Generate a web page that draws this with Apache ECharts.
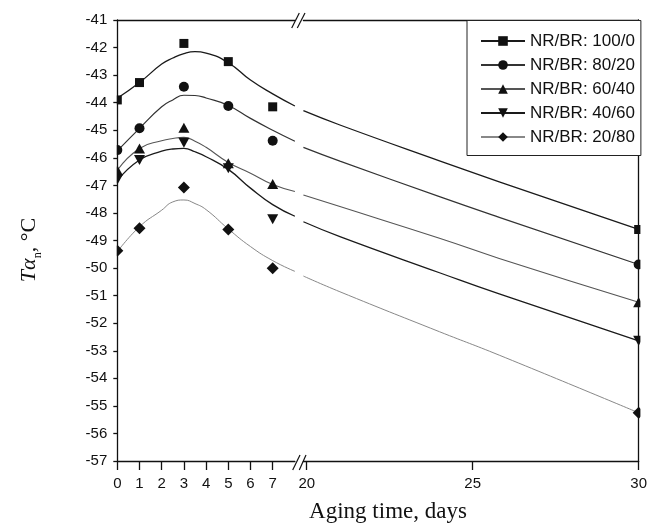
<!DOCTYPE html>
<html>
<head>
<meta charset="utf-8">
<script src="https://cdn.jsdelivr.net/npm/echarts@6/dist/echarts.min.js"></script>
<style>html,body{margin:0;padding:0;background:#fff}#c{width:650px;height:529px}</style>
</head>
<body>
<div id="c"></div>
<script>
// ---- data ----
const seriesNames = ['NR/BR: 100/0', 'NR/BR: 80/20', 'NR/BR: 60/40', 'NR/BR: 40/60', 'NR/BR: 20/80'];
// measured points
const pointDays = [0, 1, 3, 5, 7, 30];
const pts100 = [-43.9, -43.27, -41.85, -42.51, -44.15, -48.6];
const pts80  = [-45.72, -44.93, -43.42, -44.12, -45.38, -49.87];
const pts60  = [-46.45, -45.66, -44.91, -46.2, -46.95, -51.24];
const pts40  = [-46.8, -46.08, -45.45, -46.38, -48.23, -52.64];
const pts20  = [-49.37, -48.56, -47.08, -48.6, -50.01, -55.25];
// fitted curves, left panel
const fitDaysLeft = [0, 1, 2, 2.5, 3, 3.5, 4, 5, 6, 7, 8];
const fit100L = [-43.84, -43.27, -42.6, -42.38, -42.22, -42.15, -42.2, -42.55, -43.18, -43.68, -44.12];
const fit80L  = [-45.75, -44.93, -44.15, -43.9, -43.73, -43.74, -43.83, -44.1, -44.57, -45.0, -45.4];
const fit60L  = [-46.45, -45.66, -45.38, -45.3, -45.26, -45.4, -45.62, -46.17, -46.56, -46.97, -47.22];
const fit40L  = [-46.83, -46.08, -45.76, -45.68, -45.66, -45.78, -45.96, -46.42, -47.1, -47.7, -48.12];
const fit20L  = [-49.41, -48.5, -47.9, -47.6, -47.53, -47.66, -47.88, -48.58, -49.22, -49.73, -50.12];
// fitted curves, right panel
const fitDaysRight = [19.9, 21, 24, 25.8, 30];
const fit100R = [-44.29, -44.81, -46.11, -46.87, -48.6];
const fit80R  = [-45.62, -46.12, -47.41, -48.16, -49.87];
const fit60R  = [-47.35, -47.77, -48.92, -49.65, -51.24];
const fit40R  = [-48.32, -48.86, -50.17, -50.94, -52.64];
const fit20R  = [-50.29, -50.86, -52.31, -53.16, -55.25];
// ticks
const leftTicks = [0, 1, 2, 3, 4, 5, 6, 7];
const rightTicks = [20, 25, 30];
const breakAt = 8;

const ptsAll = [pts100, pts80, pts60, pts40, pts20];
const fitL = [fit100L, fit80L, fit60L, fit40L, fit20L];
const fitR = [fit100R, fit80R, fit60R, fit40R, fit20R];

// ---- styles ----
const symbols = ['rect', 'circle', 'triangle', 'triangle', 'diamond'];
const symRot = [0, 0, 0, 180, 0];
const symSize = [[9, 9], 10, [11, 10], [11, 10], [12, 12]];
const lineColors = ['#1a1a1a', '#333', '#555', '#1a1a1a', '#888'];
const lineWidths = [1.3, 1.2, 1.1, 1.3, 1];

const pair = (xs, ys) => xs.map((x, i) => [x, ys[i]]);

const series = [];
seriesNames.forEach((name, k) => {
  const common = {
    name, symbol: symbols[k], symbolRotate: symRot[k], symbolSize: symSize[k],
    itemStyle: { color: '#111', opacity: 1 }
  };
  series.push(Object.assign({}, common, {
    type: 'line', xAxisIndex: 0, yAxisIndex: 0, smooth: 0.5, showSymbol: false,
    lineStyle: { color: lineColors[k], width: lineWidths[k] },
    data: pair(fitDaysLeft, fitL[k]), z: 2
  }));
  series.push(Object.assign({}, common, {
    type: 'line', xAxisIndex: 2, yAxisIndex: 1, smooth: 0.5, showSymbol: false,
    lineStyle: { color: lineColors[k], width: lineWidths[k] },
    data: pair(fitDaysRight, fitR[k]), z: 2
  }));
  const all = pair(pointDays, ptsAll[k]);
  series.push(Object.assign({}, common, {
    type: 'scatter', xAxisIndex: 0, yAxisIndex: 0,
    data: all.filter(p => p[0] <= breakAt), z: 3
  }));
  series.push(Object.assign({}, common, {
    type: 'scatter', xAxisIndex: 2, yAxisIndex: 1,
    data: all.filter(p => p[0] > breakAt), z: 3
  }));
});

const axisLineStyle = { color: '#111', width: 1.3 };
const tickFont = { fontFamily: 'Liberation Sans', fontSize: 15, color: '#111' };

const chart = echarts.init(document.getElementById('c'), null, { renderer: 'canvas' });
chart.setOption({
  animation: false,
  backgroundColor: '#fff',
  grid: [
    { left: 117.3, top: 20, width: 177.6, height: 441 },
    { left: 303.4, top: 20, width: 336.1, height: 441 }
  ],
  xAxis: [
    { type: 'value', gridIndex: 0, min: 0, max: breakAt, position: 'bottom', z: 5,
      axisLine: { lineStyle: axisLineStyle },
      axisTick: { customValues: leftTicks, length: 9, lineStyle: axisLineStyle },
      axisLabel: Object.assign({ customValues: leftTicks, margin: 15 }, tickFont),
      splitLine: { show: false } },
    { type: 'value', gridIndex: 0, min: 0, max: breakAt, position: 'top', z: 5,
      axisLine: { lineStyle: axisLineStyle }, axisTick: { show: false },
      axisLabel: { show: false }, splitLine: { show: false } },
    { type: 'value', gridIndex: 1, min: 19.9, max: 30, position: 'bottom', z: 5,
      axisLine: { lineStyle: axisLineStyle },
      axisTick: { customValues: rightTicks, length: 9, lineStyle: axisLineStyle },
      axisLabel: Object.assign({ customValues: rightTicks, margin: 15 }, tickFont),
      splitLine: { show: false } },
    { type: 'value', gridIndex: 1, min: 19.9, max: 30, position: 'top', z: 5,
      axisLine: { lineStyle: axisLineStyle }, axisTick: { show: false },
      axisLabel: { show: false }, splitLine: { show: false } }
  ],
  yAxis: [
    { type: 'value', gridIndex: 0, min: -57, max: -41, interval: 1, position: 'left', z: 5,
      axisLine: { show: true, lineStyle: axisLineStyle },
      axisTick: { show: true, length: 4, lineStyle: axisLineStyle },
      axisLabel: Object.assign({ margin: 10 }, tickFont),
      splitLine: { show: false } },
    { type: 'value', gridIndex: 1, min: -57, max: -41, interval: 1, position: 'right', z: 5,
      axisLine: { show: true, lineStyle: axisLineStyle },
      axisTick: { show: false }, axisLabel: { show: false },
      splitLine: { show: false } }
  ],
  legend: {
    data: seriesNames, orient: 'vertical', left: 467, top: 20.5, z: 6,
    padding: [12, 6, 10, 13], itemGap: 7, itemWidth: 44, itemHeight: 12,
    backgroundColor: '#fff', borderColor: '#222', borderWidth: 1, borderRadius: 0,
    selectedMode: false,
    textStyle: { fontFamily: 'Liberation Sans', fontSize: 17, color: '#111' }
  },
  graphic: [
    // white masks so edge markers look clipped by the frame
    { type: 'rect', z: 4, silent: true, shape: { x: 95, y: 5, width: 21.8, height: 470 }, style: { fill: '#fff' } },
    { type: 'rect', z: 4, silent: true, shape: { x: 640.4, y: 5, width: 10, height: 470 }, style: { fill: '#fff' } },
    // axis break marks
    { type: 'line', z: 6, shape: { x1: 292.7, y1: 470, x2: 300, y2: 455 }, style: { stroke: '#111', lineWidth: 1.2 } },
    { type: 'line', z: 6, shape: { x1: 299.3, y1: 470, x2: 306, y2: 455 }, style: { stroke: '#111', lineWidth: 1.2 } },
    { type: 'line', z: 6, shape: { x1: 291.7, y1: 28, x2: 299.3, y2: 13 }, style: { stroke: '#111', lineWidth: 1.2 } },
    { type: 'line', z: 6, shape: { x1: 297.3, y1: 28, x2: 305, y2: 13 }, style: { stroke: '#111', lineWidth: 1.2 } },
    // axis titles
    { type: 'text', z: 6, x: 388, y: 512,
      style: { text: 'Aging time, days', font: '23px "Liberation Serif"', fill: '#111',
               textAlign: 'center', textVerticalAlign: 'middle' } },
    { type: 'text', z: 6, x: 29, y: 250, rotation: Math.PI / 2,
      style: {
        text: '{t|Tα}{s|n}{a|, °C}', fill: '#111', textAlign: 'center', textVerticalAlign: 'middle',
        rich: {
          t: { fontFamily: 'Liberation Serif', fontStyle: 'italic', fontSize: 22, lineHeight: 30, fill: '#111' },
          a: { fontFamily: 'Liberation Serif', fontSize: 22, lineHeight: 30, fill: '#111' },
          s: { fontFamily: 'Liberation Serif', fontSize: 12, lineHeight: 12, verticalAlign: 'bottom', fill: '#111' }
        }
      } }
  ],
  series
});
</script>
</body>
</html>
